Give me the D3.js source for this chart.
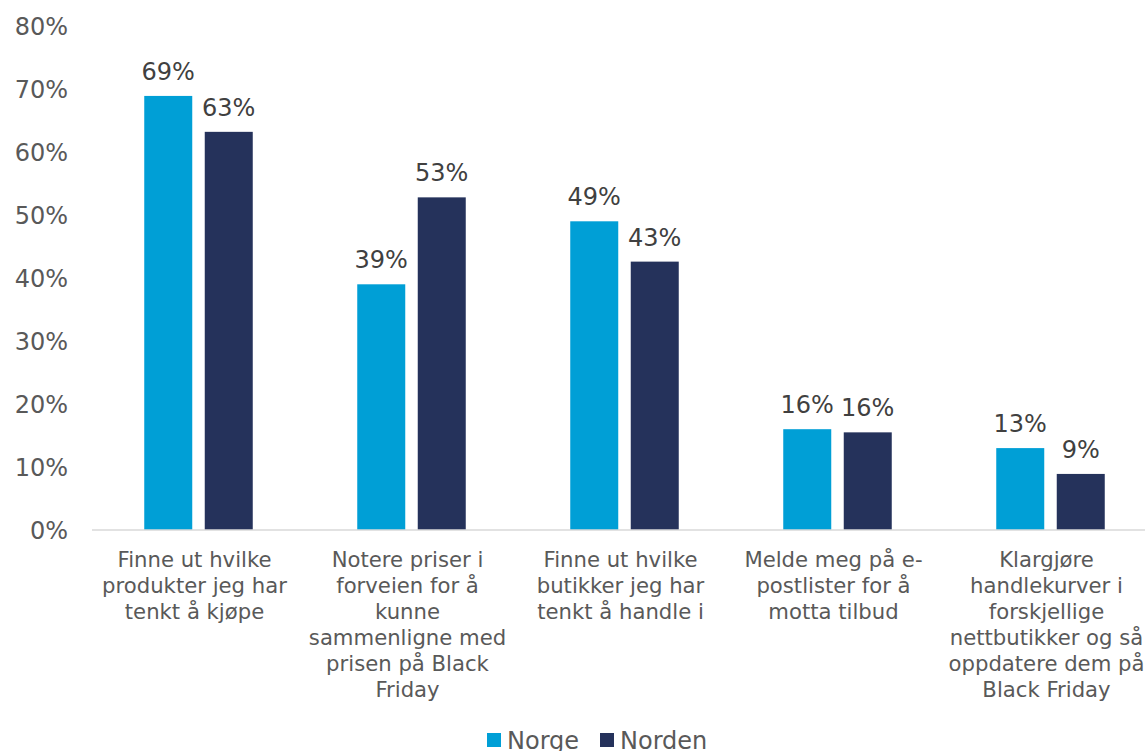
<!DOCTYPE html>
<html>
<head>
<meta charset="utf-8">
<script src="https://cdn.jsdelivr.net/npm/d3@7"></script>
<style>
  html, body { margin: 0; padding: 0; background: #fff; }
  svg { display: block; font-family: "DejaVu Sans", Verdana, sans-serif; }
</style>
</head>
<body>
<svg id="chart" width="1145" height="751"></svg>
<script>
// Planlegging før Black Friday – andel som gjør hver aktivitet
const categories = [
  ["Finne ut hvilke", "produkter jeg har", "tenkt å kjøpe"],
  ["Notere priser i", "forveien for å", "kunne", "sammenligne med", "prisen på Black", "Friday"],
  ["Finne ut hvilke", "butikker jeg har", "tenkt å handle i"],
  ["Melde meg på e-", "postlister for å", "motta tilbud"],
  ["Klargjøre", "handlekurver i", "forskjellige", "nettbutikker og så", "oppdatere dem på", "Black Friday"]
];
const seriesNames = ["Norge", "Norden"];
const norge  = [0.689, 0.390, 0.490, 0.160, 0.130];
const norden = [0.632, 0.528, 0.426, 0.155, 0.089];
const yTicks = [0, 0.1, 0.2, 0.3, 0.4, 0.5, 0.6, 0.7, 0.8];
const colors = ["#009FD6", "#25325B"];

const svg = d3.select("#chart");
const x = d3.scaleBand().domain(d3.range(categories.length)).range([92, 1157]).paddingInner(0).paddingOuter(0);
const y = d3.scaleLinear().domain([0, 0.8]).range([530, 26]);
const barW = 48, gap = 12.5;
const pct = d3.format(".0%");

// y-axis labels
const yAxis = d3.axisLeft(y).tickValues(yTicks).tickFormat(pct).tickSize(0).tickPadding(0);
const gy = svg.append("g").attr("transform", "translate(68,0)").call(yAxis);
gy.select(".domain").remove();
gy.selectAll("text").attr("font-size", 24).attr("fill", "#595959")
  .attr("font-family", "DejaVu Sans, Verdana, sans-serif").attr("dy", "0.36em");

// bars with value labels
const data = [norge, norden];
data.forEach((vals, s) => {
  const g = svg.append("g");
  const xOff = s === 0 ? -gap / 2 - barW : gap / 2;
  g.selectAll("rect").data(vals).join("rect")
    .attr("x", (d, i) => x(i) + x.bandwidth() / 2 + xOff)
    .attr("y", d => y(d))
    .attr("width", barW)
    .attr("height", d => y(0) - y(d))
    .attr("fill", colors[s]);
  g.selectAll("text").data(vals).join("text")
    .attr("x", (d, i) => x(i) + x.bandwidth() / 2 + xOff + barW / 2)
    .attr("y", d => y(d) - 16)
    .attr("text-anchor", "middle")
    .attr("font-size", 24)
    .attr("fill", "#404040")
    .text(d => pct(d));
});

// baseline
svg.append("line").attr("x1", 92).attr("x2", 1145).attr("y1", y(0)).attr("y2", y(0))
  .attr("stroke", "#D9D9D9").attr("stroke-width", 1.5);

// category labels (wrapped, centred slightly left of each group)
const gx = svg.append("g");
categories.forEach((lines, i) => {
  const cx = x(i) + x.bandwidth() / 2 - 4;
  const t = gx.append("text")
    .attr("x", cx)
    .attr("y", 567)
    .attr("text-anchor", "middle")
    .attr("font-size", 21.2)
    .attr("fill", "#595959");
  lines.forEach((ln, k) => {
    t.append("tspan").attr("x", cx).attr("dy", k === 0 ? 0 : 26).text(ln);
  });
});

// legend
const legX = [487, 600];
seriesNames.forEach((name, s) => {
  svg.append("rect").attr("x", legX[s]).attr("y", 733).attr("width", 14).attr("height", 14).attr("fill", colors[s]);
  svg.append("text").attr("x", legX[s] + 20).attr("y", 749).attr("font-size", 24).attr("fill", "#595959").text(name);
});
</script>
</body>
</html>
